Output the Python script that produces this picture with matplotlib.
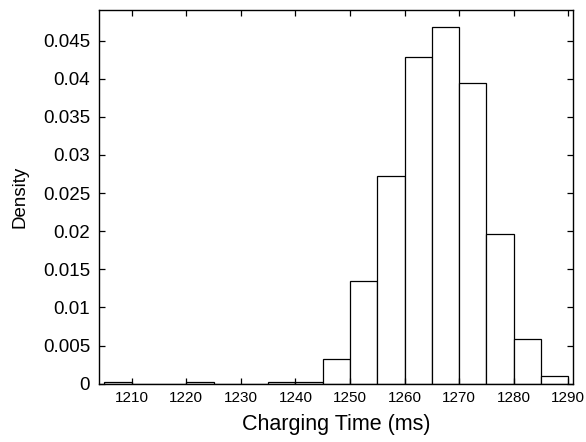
import matplotlib
matplotlib.use("Agg")
import matplotlib.pyplot as plt
from matplotlib.ticker import FuncFormatter
import numpy as np

# histogram bins (ms) and density values
bin_edges = [1205, 1210, 1215, 1220, 1225, 1230, 1235, 1240, 1245, 1250,
             1255, 1260, 1265, 1270, 1275, 1280, 1285, 1290]
density = [0.00018, 0.0, 0.0, 0.00018, 0.0, 0.0, 0.00018, 0.00018, 0.00325,
           0.01341, 0.02719, 0.04285, 0.04679, 0.03938, 0.01958, 0.00584, 0.00102]
x_ticks = [1210, 1220, 1230, 1240, 1250, 1260, 1270, 1280, 1290]
y_ticks = [0, 0.005, 0.01, 0.015, 0.02, 0.025, 0.03, 0.035, 0.04, 0.045]

plt.rcParams["font.family"] = ["Liberation Sans", "DejaVu Sans"]

fig = plt.figure(figsize=(5.86, 4.42), dpi=100)
ax = fig.add_axes([0.169, 0.132, 0.808, 0.845])

edges = np.array(bin_edges)
ax.bar(edges[:-1], density, width=np.diff(edges), align="edge",
       color="white", edgecolor="black", linewidth=0.9)

ax.set_xlim(1204, 1290.8)
ax.set_ylim(0, 0.049)
ax.set_xticks(x_ticks)
ax.set_yticks(y_ticks)
ax.yaxis.set_major_formatter(FuncFormatter(lambda v, p: f"{v:g}"))
ax.tick_params(direction="in", top=True, right=True, length=4, width=0.9,
               colors="black")
ax.tick_params(axis="x", labelsize=11, pad=5.5)
ax.tick_params(axis="y", labelsize=13.5, pad=6.5)
for s in ax.spines.values():
    s.set_linewidth(1.0)

ax.set_xlabel("Charging Time (ms)", fontsize=15.5)
ax.set_ylabel("Density", fontsize=13.5)
ax.xaxis.set_label_coords(0.5, -0.081)
ax.yaxis.set_label_coords(-0.149, 0.5)

fig.savefig("out.png", dpi=100)
